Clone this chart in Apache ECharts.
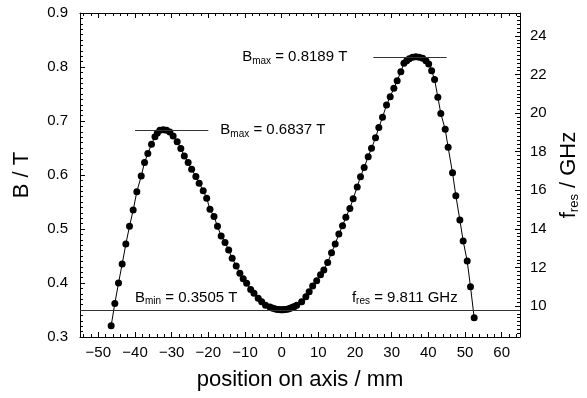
<!DOCTYPE html>
<html>
<head>
<meta charset="utf-8">
<script src="https://cdn.jsdelivr.net/npm/echarts@6/dist/echarts.min.js"></script>
<style>
html, body { margin: 0; padding: 0; background: #fff; }
#chart { width: 587px; height: 398px; }
</style>
</head>
<body>
<div id="chart"></div>
<script>
// measured field along the axis
const positionMm = [
  -46.5, -45.5, -44.5, -43.5, -42.5, -41.5, -40.5, -39.5, -38.3, -37.4,
  -36.5, -35.5, -34.55, -33.9, -33.2, -32.3, -31.4, -30.5, -29.6, -28.5,
  -27.5, -26.55, -25.5, -24.55, -23.4, -22.5, -21.4, -20.45, -19.55, -18.45,
  -17.5, -16.5, -15.45, -14.45, -13.5, -12.4, -11.4, -10.5, -9.55, -8.45,
  -7.55, -6.4, -5.45, -4.4, -3.2, -2.6, -2.1, -1.5, -0.9, -0.4,
  0, 0.4, 0.9, 1.5, 2.0, 2.5, 3.0, 3.5, 4.1, 5.45,
  6.6, 7.5, 8.45, 9.55, 10.6, 11.5, 12.55, 13.6, 14.6, 15.6,
  16.6, 17.5, 18.6, 19.5, 20.6, 21.5, 22.5, 23.6, 24.5, 25.6,
  26.5, 27.5, 28.6, 29.6, 30.6, 31.5, 32.5, 33.35, 34.1, 34.8,
  35.7, 36.6, 37.5, 38.45, 39.35, 40.1, 40.9, 41.7, 42.6, 43.4,
  44.6, 45.4, 46.6, 47.5, 48.6, 49.5, 50.6, 51.5, 52.5
];
const fieldT = [
  0.321, 0.362, 0.400, 0.435, 0.472, 0.505, 0.535, 0.569, 0.598, 0.623,
  0.640, 0.657, 0.671, 0.678, 0.683, 0.6837, 0.683, 0.6796, 0.672, 0.6617,
  0.649, 0.635, 0.623, 0.6105, 0.597, 0.5846, 0.571, 0.557, 0.5365, 0.523,
  0.505, 0.487, 0.475, 0.461, 0.446, 0.4315, 0.418, 0.408, 0.3994, 0.388,
  0.381, 0.3717, 0.3654, 0.359, 0.3556, 0.3539, 0.3527, 0.3516, 0.3509, 0.3506,
  0.3505, 0.3506, 0.3509, 0.3516, 0.3525, 0.3536, 0.3550, 0.3566, 0.359, 0.3654,
  0.3746, 0.384, 0.3944, 0.404, 0.4154, 0.424, 0.438, 0.456, 0.472, 0.4907,
  0.506, 0.5216, 0.538, 0.556, 0.578, 0.5969, 0.614, 0.634, 0.6494, 0.669,
  0.688, 0.7068, 0.7296, 0.745, 0.7606, 0.7746, 0.7913, 0.8068, 0.8117, 0.8154,
  0.8182, 0.8189, 0.8182, 0.816, 0.8117, 0.8056, 0.793, 0.777, 0.744, 0.714,
  0.6846, 0.6513, 0.604, 0.5617, 0.5167, 0.4778, 0.4407, 0.393, 0.3357
];

const xTicks = [-50, -40, -30, -20, -10, 0, 10, 20, 30, 40, 50, 60];
const bTicks = [0.3, 0.4, 0.5, 0.6, 0.7, 0.8, 0.9];
const fTicks = [10, 12, 14, 16, 18, 20, 22, 24];

// resonance: f = GHZ_PER_T * B
const GHZ_PER_T = 27.99;
const bMin = 0.3505;
const fRes = 9.811;
const bMaxLeft = 0.6837;
const bMaxRight = 0.8189;
const bMaxLeftSpan = [-40, -20];
const bMaxRightSpan = [25, 45];
const bMinLabelX = -40;
const fResLabelX = 48;

const xRange = [-55, 65];
const bRange = [0.3, 0.9];

function steps(from, to, step) {
  const out = [];
  for (let i = 0; from + i * step <= to + 1e-9; i++) out.push(+(from + i * step).toFixed(4));
  return out;
}
const xMinor = steps(-54, 64, 2);
const bMinor = steps(0.3, 0.9, 0.01);
const fMinor = steps(8.4, 25.2, 0.2);

const FONT = '"Liberation Sans", Arial, Helvetica, sans-serif';
const black = '#000';

function rich(main, sub) {
  return {
    b: { fontSize: main, lineHeight: main + 3, color: black, fontFamily: FONT },
    s: { fontSize: sub, lineHeight: 6, verticalAlign: 'bottom', color: black, fontFamily: FONT }
  };
}

function tickAxis(pos, min, max, values, len, showLine, extra) {
  return Object.assign({
    type: 'value', position: pos, min: min, max: max,
    axisLine: { show: showLine, onZero: false, lineStyle: { color: black, width: 1 } },
    axisTick: { show: true, inside: true, length: len, customValues: values, lineStyle: { color: black, width: 1 } },
    axisLabel: { show: false },
    splitLine: { show: false }
  }, extra || {});
}

const minusFmt = v => (v < 0 ? '\u2212' + (-v) : '' + v);

const chart = echarts.init(document.getElementById('chart'), null, { renderer: 'canvas' });

const option = {
  animation: false,
  backgroundColor: '#fff',
  grid: { left: 80, right: 67, top: 13, bottom: 61, containLabel: false, outerBoundsMode: 'none' },
  xAxis: [
    tickAxis('bottom', xRange[0], xRange[1], xTicks, 5, true, {
      axisLabel: { show: true, customValues: xTicks, formatter: minusFmt, fontSize: 15, color: black, fontFamily: FONT, margin: 8 },
      name: 'position on axis / mm', nameLocation: 'middle', nameGap: 32,
      nameTextStyle: { fontSize: 22, color: black, fontFamily: FONT }
    }),
    tickAxis('bottom', xRange[0], xRange[1], xMinor, 3, false),
    tickAxis('top', xRange[0], xRange[1], xTicks, 5, true),
    tickAxis('top', xRange[0], xRange[1], xMinor, 3, false)
  ],
  yAxis: [
    tickAxis('left', bRange[0], bRange[1], bTicks, 5, true, {
      axisLabel: { show: true, customValues: bTicks, formatter: v => v.toFixed(1), fontSize: 15, color: black, fontFamily: FONT, margin: 12 },
      name: 'B / T', nameLocation: 'middle', nameRotate: 90, nameGap: 47,
      nameTextStyle: { fontSize: 22, color: black, fontFamily: FONT }
    }),
    tickAxis('left', bRange[0], bRange[1], bMinor, 3, false),
    tickAxis('right', bRange[0] * GHZ_PER_T, bRange[1] * GHZ_PER_T, fTicks, 5, true, {
      axisLabel: { show: true, customValues: fTicks, fontSize: 15, color: black, fontFamily: FONT, margin: 10 },
      name: '{b|f}{s|res}{b| / GHz}', nameLocation: 'middle', nameRotate: 90, nameGap: 32,
      nameTextStyle: { rich: rich(22, 13) }
    }),
    tickAxis('right', bRange[0] * GHZ_PER_T, bRange[1] * GHZ_PER_T, fMinor, 3, false)
  ],
  series: [{
    type: 'line',
    xAxisIndex: 0,
    yAxisIndex: 0,
    data: positionMm.map((x, i) => [x, fieldT[i]]),
    symbol: 'circle',
    symbolSize: 7,
    showAllSymbol: true,
    itemStyle: { color: black },
    lineStyle: { color: black, width: 1 },
    markLine: {
      silent: true,
      symbol: ['none', 'none'],
      lineStyle: { color: '#333', width: 1, type: 'solid' },
      label: { show: false },
      emphasis: { disabled: true },
      data: [
        { yAxis: fRes / GHZ_PER_T },
        [{ coord: [bMaxLeftSpan[0], bMaxLeft] }, { coord: [bMaxLeftSpan[1], bMaxLeft] }],
        [{ coord: [bMaxRightSpan[0], bMaxRight] }, { coord: [bMaxRightSpan[1], bMaxRight] }]
      ]
    },
    markPoint: {
      silent: true,
      symbol: 'circle',
      symbolSize: 0,
      itemStyle: { color: 'rgba(0,0,0,0)' },
      label: { show: true, rich: rich(15, 10) },
      data: [
        { coord: [bMaxLeftSpan[1], bMaxLeft],
          label: { position: 'right', distance: 12, formatter: '{b|B}{s|max}{b| = ' + bMaxLeft.toFixed(4) + ' T}' } },
        { coord: [bMaxRightSpan[0], bMaxRight],
          label: { position: 'left', distance: 26, formatter: '{b|B}{s|max}{b| = ' + bMaxRight.toFixed(4) + ' T}' } },
        { coord: [bMinLabelX, bMin],
          label: { position: [0, -3], align: 'left', verticalAlign: 'bottom', formatter: '{b|B}{s|min}{b| = ' + bMin.toFixed(4) + ' T}' } },
        { coord: [fResLabelX, bMin],
          label: { position: [0, -3], align: 'right', verticalAlign: 'bottom', formatter: '{b|f}{s|res}{b| = ' + fRes.toFixed(3) + ' GHz}' } }
      ]
    }
  }]
};

chart.setOption(option);
</script>
</body>
</html>
